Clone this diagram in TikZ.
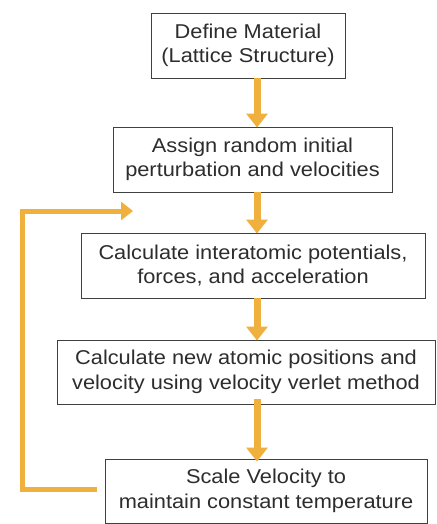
\documentclass[tikz,border=0pt]{standalone}
\usepackage{fontspec}
\setmainfont{Liberation Sans}[FakeStretch=1.09]
\usetikzlibrary{arrows.meta}

\definecolor{flowor}{RGB}{240,176,62}
\definecolor{boxtxt}{RGB}{45,45,45}

\tikzset{
  stepbox/.style={draw=black!75, line width=0.9pt, fill=white, align=center,
    text=boxtxt, font=\fontsize{20}{24.5}\selectfont, inner sep=0pt},
  flow/.style={draw=flowor, line width=7pt, -{Triangle[width=21pt,length=14pt]}},
  loopback/.style={draw=flowor, line width=5pt, -{Triangle[width=18pt,length=12pt]}}
}

\begin{document}
\begin{tikzpicture}[x=1pt,y=-1pt]
            \useasboundingbox (0,0) rectangle (436,524);

            \node[stepbox, minimum width=194pt, minimum height=65pt] (define) at(248,45.5)
                {Define Material\\(Lattice Structure)};
            \node[stepbox, minimum width=279pt, minimum height=65pt] (assign) at(252.5,159.5)
                {Assign random initial\\perturbation and velocities};
            \node[stepbox, minimum width=344pt, minimum height=65pt] (forces) at(253,265.5)
                {Calculate interatomic potentials,\\forces, and acceleration};
            \node[stepbox, minimum width=378pt, minimum height=64pt] (verlet) at(246,372)
                {Calculate new atomic positions and\\velocity using velocity verlet method};
            \node[stepbox, minimum width=322pt, minimum height=64pt] (scale) at(266,491)
                {Scale Velocity to\\maintain constant temperature};

            \coordinate (mid) at(257,0);
            \coordinate (corner) at(22,211);
            \coordinate (reentry) at(133,211);

            \draw[flow] (define.south -| mid) -- ([yshift=-1pt]assign.north -| mid);
            \draw[flow] (assign.south -| mid) -- ([yshift=-1pt]forces.north -| mid);
            \draw[flow] (forces.south -| mid) -- ([yshift=-1pt]verlet.north -| mid);
            \draw[flow] ([yshift=5pt]verlet.south -| mid) -- ([yshift=-3pt]scale.north -| mid);

            \draw[loopback] ([xshift=-8pt,yshift=2pt]scale.west) -| (corner) -- (reentry);

        \end{tikzpicture}
\end{document}
